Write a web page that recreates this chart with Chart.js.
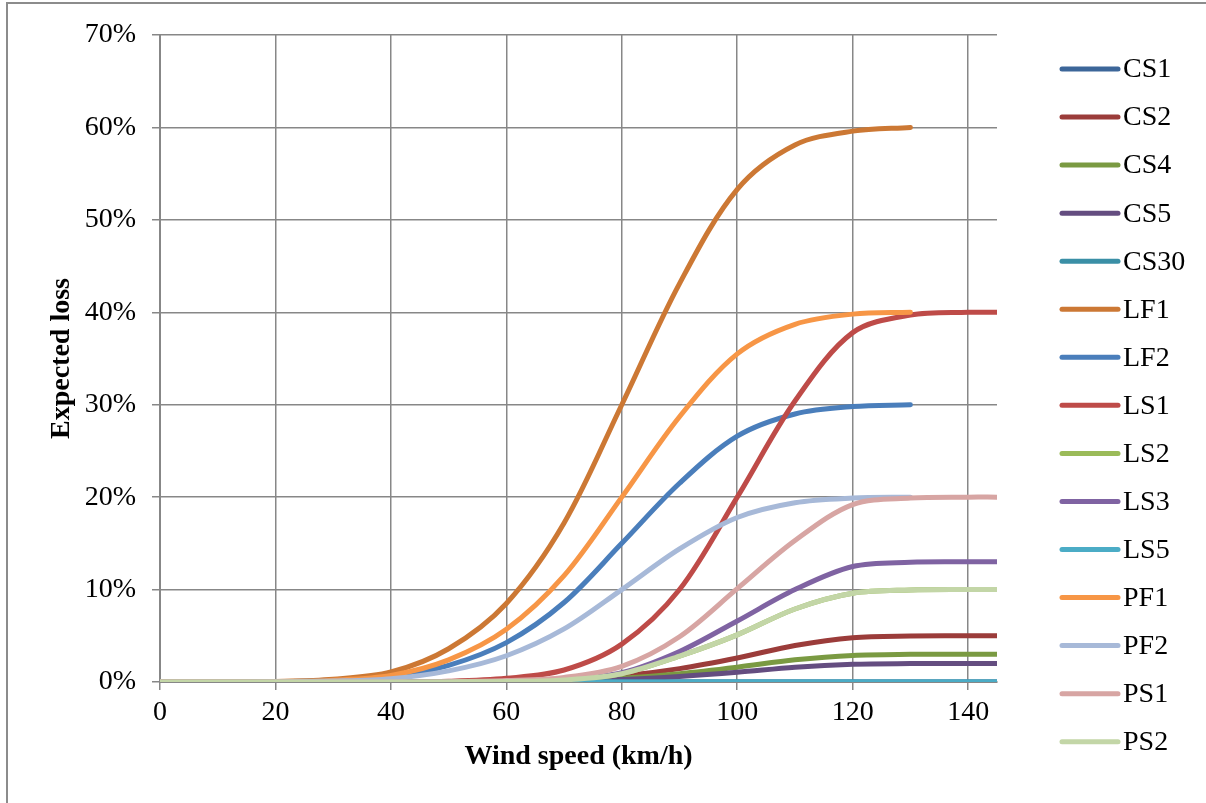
<!DOCTYPE html>
<html>
<head>
<meta charset="utf-8">
<script src="https://cdn.jsdelivr.net/npm/chart.js@4/dist/chart.umd.min.js"></script>
<style>
html,body{margin:0;padding:0;background:#fff;}
#wrap{position:relative;width:1206px;height:803px;}
</style>
</head>
<body>
<div id="wrap"><canvas id="c" width="1206" height="803"></canvas></div>
<script>
// Wind speed (km/h)
const speeds = [0,10,20,30,40,50,60,70,80,90,100,110,120,130,140,145];
const seriesNames = ['CS1','CS2','CS4','CS5','CS30','LF1','LF2','LS1','LS2','LS3','LS5','PF1','PF2','PS1','PS2'];
// Expected loss (%)
const CS1  = [0,0,0,0,0,0,0,0,0,0,0,0,0,0,0,0];
const CS2  = [0,0,0,0,0,0.01,0.05,0.2,0.65,1.45,2.6,3.95,4.8,4.98,5,5];
const CS4  = [0,0,0,0,0,0.01,0.03,0.12,0.4,0.9,1.6,2.4,2.88,2.99,3,3];
const CS5  = [0,0,0,0,0,0,0.02,0.08,0.27,0.6,1.05,1.6,1.92,1.99,2,2];
const CS30 = [0,0,0,0,0,0,0,0,0,0,0,0,0,0,0,0];
const LF1  = [0,0,0.06,0.3,1.08,3.6,8.5,17.2,30,43.1,53.3,58.1,59.6,60];
const LF2  = [0,0,0.03,0.15,0.54,1.8,4.26,8.6,15,21.5,26.6,29.0,29.8,30];
const LS1  = [0,0,0,0,0.02,0.08,0.4,1.3,4.1,10,20,30.4,37.8,39.7,40,40];
const LS2  = [0,0,0,0,0,0.01,0.05,0.22,0.9,2.8,5.1,7.9,9.6,9.95,10,10];
const LS3  = [0,0,0,0,0,0.01,0.05,0.25,1.0,3.3,6.6,10.0,12.5,12.95,13,13];
const LS5  = [0,0,0,0,0,0,0,0,0,0,0,0,0,0,0,0];
const PF1  = [0,0,0.04,0.2,0.72,2.4,5.7,11.5,20,28.7,35.5,38.7,39.8,40];
const PF2  = [0,0,0.02,0.1,0.36,1.2,2.84,5.74,10,14.4,17.8,19.4,19.9,20];
const PS1  = [0,0,0,0,0.01,0.04,0.15,0.5,1.7,4.9,10.1,15.3,19.2,19.9,20,20];
const PS2  = [0,0,0,0,0,0.01,0.05,0.22,0.9,2.8,5.1,7.9,9.6,9.95,10,10];
const seriesValues = [CS1,CS2,CS4,CS5,CS30,LF1,LF2,LS1,LS2,LS3,LS5,PF1,PF2,PS1,PS2];
const seriesColors = ['#3C6699','#9B3C3A','#7A9A42','#644D80','#3A8FA6','#CC7834','#4A7EBB','#BE4B48','#9BBB59','#7F63A2','#4BACC6','#F79646','#A7B9D8','#D7A5A3','#C3D6A7'];
const yTickValues = [0,10,20,30,40,50,60,70];
const xTickValues = [0,20,40,60,80,100,120,140];

const FONT = '"Liberation Serif", "Times New Roman", serif';
const GRID = '#878787';

const datasets = seriesNames.map((name, i) => ({
  label: name,
  data: seriesValues[i].map((v, j) => ({x: speeds[j], y: v})),
  borderColor: seriesColors[i],
  backgroundColor: seriesColors[i],
  borderWidth: 5,
  pointRadius: 0,
  pointHoverRadius: 0,
  fill: false,
  tension: 0.33,
  borderCapStyle: 'round',
  borderJoinStyle: 'round',
  order: seriesNames.length - i
}));

const framePlugin = {
  id: 'frame',
  beforeDraw(chart) {
    const ctx = chart.ctx;
    ctx.save();
    ctx.fillStyle = '#fff';
    ctx.fillRect(0, 0, chart.width, chart.height);
    ctx.strokeStyle = '#8c8c8c';
    ctx.lineWidth = 2;
    ctx.strokeRect(7, 3, 1400, 1000);
    ctx.restore();
  }
};

const legendPlugin = {
  id: 'sideLegend',
  afterDraw(chart) {
    const ctx = chart.ctx;
    ctx.save();
    ctx.font = '28px ' + FONT;
    ctx.textBaseline = 'middle';
    ctx.textAlign = 'left';
    chart.data.datasets.forEach((ds, i) => {
      const y = 69 + i * 48.05;
      ctx.strokeStyle = ds.borderColor;
      ctx.lineWidth = 5;
      ctx.lineCap = 'round';
      ctx.beginPath();
      ctx.moveTo(1062, y);
      ctx.lineTo(1118, y);
      ctx.stroke();
      ctx.fillStyle = '#000';
      ctx.fillText(ds.label, 1123, y + 1);
    });
    ctx.restore();
  }
};

new Chart(document.getElementById('c'), {
  type: 'line',
  data: { datasets },
  plugins: [framePlugin, legendPlugin],
  options: {
    responsive: false,
    animation: false,
    devicePixelRatio: 1,
    layout: { padding: { left: 0, right: 209, top: 35, bottom: 0 } },
    plugins: { legend: { display: false }, tooltip: { enabled: false } },
    scales: {
      x: {
        type: 'linear',
        min: 0, max: 145,
        afterBuildTicks: (s) => { s.ticks = xTickValues.map(v => ({value: v})); },
        ticks: { color: '#000', font: { family: FONT, size: 28 }, padding: 6, maxRotation: 0, autoSkip: false },
        grid: { color: GRID, lineWidth: 1.5, tickLength: 8, drawTicks: true },
        border: { color: GRID, width: 2 },
        title: { display: true, text: 'Wind speed (km/h)', color: '#000', font: { family: FONT, size: 28, weight: 'bold' }, padding: { top: 0, bottom: 29 } },
        afterFit: (s) => { s.height = 121; }
      },
      y: {
        type: 'linear',
        min: 0, max: 70,
        afterBuildTicks: (s) => { s.ticks = yTickValues.map(v => ({value: v})); },
        ticks: { color: '#000', font: { family: FONT, size: 28 }, padding: 16, callback: (v) => v + '%' },
        grid: { color: GRID, lineWidth: 1.5, tickLength: 8, drawTicks: true },
        border: { color: GRID, width: 2 },
        title: { display: true, text: 'Expected loss', color: '#000', font: { family: FONT, size: 28, weight: 'bold' }, padding: { top: 45, bottom: 0 } },
        afterFit: (s) => { s.width = 160; }
      }
    }
  }
});
</script>
</body>
</html>
